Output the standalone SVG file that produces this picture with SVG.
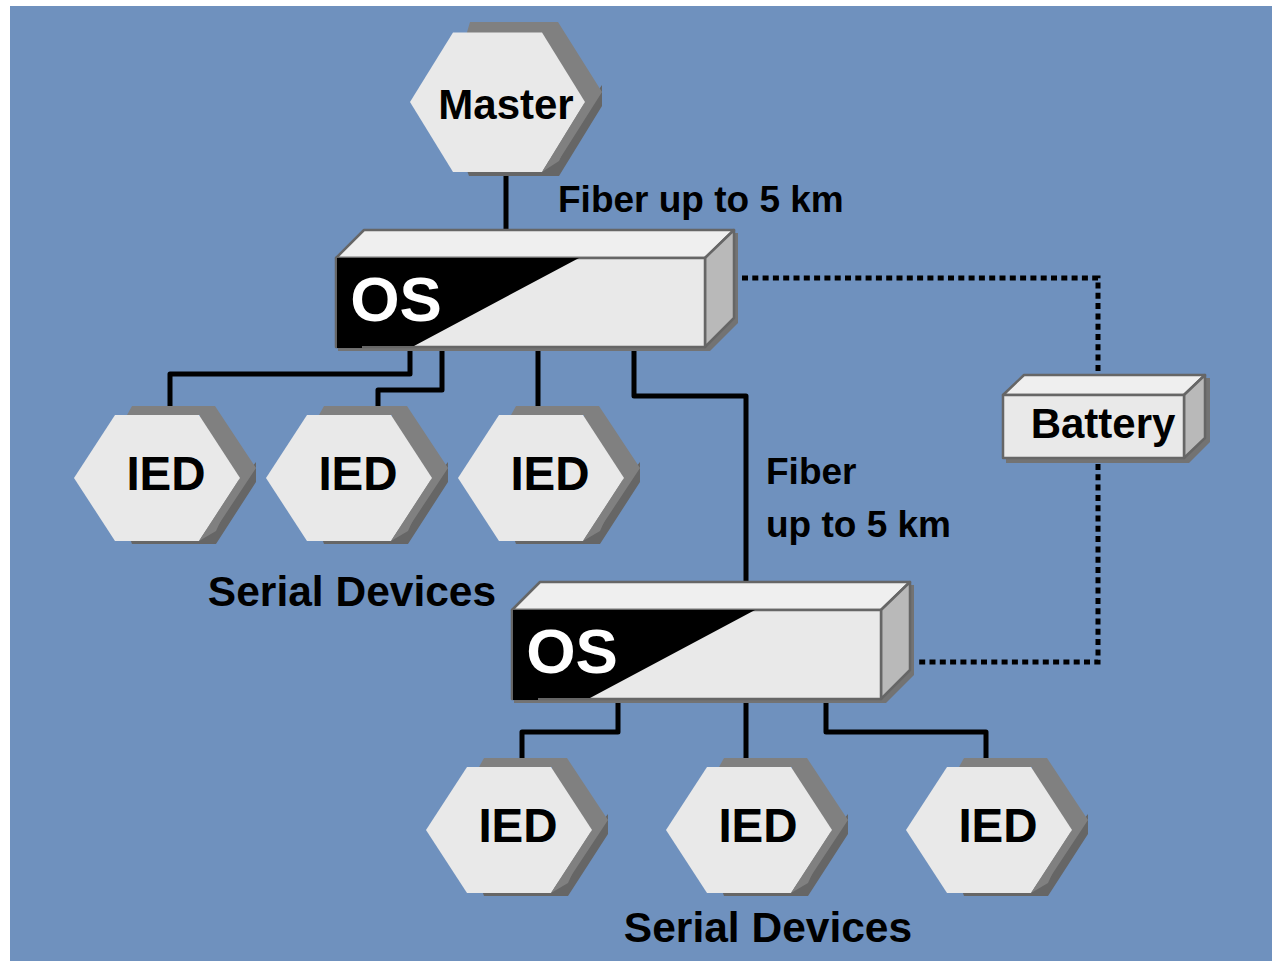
<svg xmlns="http://www.w3.org/2000/svg" width="1272" height="961" viewBox="0 0 1272 961">
<style>
text{font-family:"Liberation Sans",Arial,sans-serif;font-weight:700;fill:#000}
.big{font-size:42px}.ied{font-size:47.5px}.lab{font-size:42.500px}.f{font-size:37px}
.os{font-size:63.500px;fill:#fff}
.fr{fill:#e9e9e9}.sh{fill:#808080}.dk{fill:#666}.bs{fill:#737373}
.wire{fill:none;stroke:#000;stroke-width:5;stroke-linejoin:round}
.dot{fill:none;stroke:#000;stroke-width:5;stroke-dasharray:6 4.3}
.box{stroke:#666;stroke-width:2.500;stroke-linejoin:round}
</style>
<defs>
<g id="ied">
<path class="dk" d="M127 530L132 544H216L256 482V462L200 530Z"/>
<path class="sh" d="M127 415L132 406H215L256 468L215 530L200 530V415Z"/>
<path class="fr" d="M74 478L115 415H199L240 478L199 541H115Z"/>
<path d="M199 541L216 531L240 478Z" fill="#808080"/>
</g>
<g id="osbox">
<path class="bs" d="M338 340V351H710L738 323V233H700V340Z"/>
<path class="box" fill="#efefef" d="M336 258L364 230H734L705 258Z"/>
<path class="box" fill="#b9b9b9" d="M705 258L734 230V318L705 347Z"/>
<path class="box fr" d="M336 258H705V347H336Z"/>
<path d="M337 258H579L414 346H362V348H337Z"/>
</g>
</defs>
<rect x="10" y="6" width="1262" height="955" fill="#6f91be"/>
<g id="connectors">
<path class="wire" d="M506 176V232"/>
<path class="wire" d="M410 350V374H170V408"/>
<path class="wire" d="M442 350V390H378V408"/>
<path class="wire" d="M538 350V408"/>
<path class="wire" d="M634 350V396H746V582"/>
<path class="wire" d="M618 702V732H522V760"/>
<path class="wire" d="M746 702V760"/>
<path class="wire" d="M826 702V732H986V760"/>
<path class="dot" d="M742 278H1098V373"/>
<path class="dot" d="M1098 464V662H918"/>
</g>
<g id="master">
<path class="dk" d="M465 165L469 176H559L602 106V85L540 172Z"/>
<path class="sh" d="M465 39L470 22H558L602 92L559 160L542 160V39Z"/>
<path class="fr" d="M410 102L453 32.500H542L585 102L542 172H453Z"/>
<path d="M542 172L559 161L585 102Z" fill="#808080"/>
<text class="big" x="506" y="119" text-anchor="middle">Master</text>
</g>
<g id="os1">
<use href="#osbox"/>
<text class="os" x="396" y="321" text-anchor="middle">OS</text>
</g>
<g id="os2">
<use href="#osbox" x="176" y="352"/>
<text class="os" x="572" y="673" text-anchor="middle">OS</text>
</g>
<g id="battery">
<path class="bs" d="M1006 450V463H1189L1210 442V378H1170V450Z"/>
<path class="box" fill="#efefef" d="M1003 395L1024 375H1205L1184 395Z"/>
<path class="box" fill="#b9b9b9" d="M1184 395L1205 375V438L1184 458Z"/>
<path class="box fr" d="M1003 395H1184V458H1003Z"/>
<text class="big" x="1103" y="438" text-anchor="middle">Battery</text>
</g>
<g id="ied1"><use href="#ied"/><text class="ied" x="166" y="490" text-anchor="middle">IED</text></g>
<g id="ied2"><use href="#ied" x="192"/><text class="ied" x="358" y="490" text-anchor="middle">IED</text></g>
<g id="ied3"><use href="#ied" x="384"/><text class="ied" x="550" y="490" text-anchor="middle">IED</text></g>
<g id="ied4"><use href="#ied" x="352" y="352"/><text class="ied" x="518" y="842" text-anchor="middle">IED</text></g>
<g id="ied5"><use href="#ied" x="592" y="352"/><text class="ied" x="758" y="842" text-anchor="middle">IED</text></g>
<g id="ied6"><use href="#ied" x="832" y="352"/><text class="ied" x="998" y="842" text-anchor="middle">IED</text></g>
<text class="f" x="558" y="212">Fiber up to 5 km</text>
<text class="f" x="766" y="484">Fiber</text>
<text class="f" x="766" y="537">up to 5 km</text>
<text class="lab" x="352" y="606" text-anchor="middle">Serial Devices</text>
<text class="lab" x="768" y="942" text-anchor="middle">Serial Devices</text>
</svg>
